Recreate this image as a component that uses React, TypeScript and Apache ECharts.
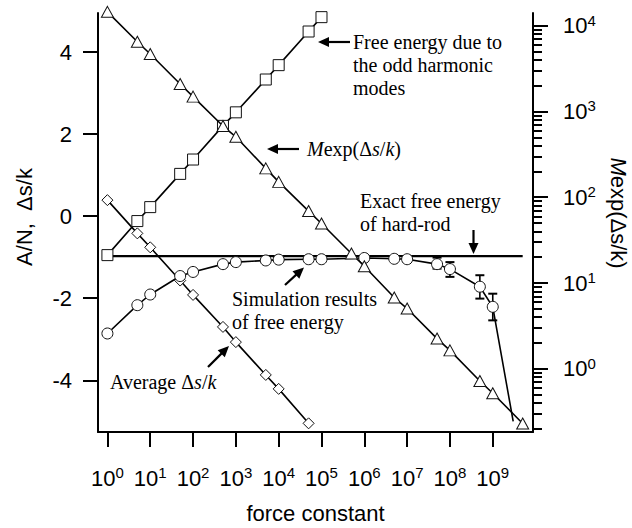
import React, { useEffect, useRef } from "react";
import * as echarts from "echarts";

// ---------------- data ----------------
const forceConstants = [1, 5, 10, 50, 100, 500, 1e3, 5e3, 1e4, 5e4, 1e5, 5e5, 1e6, 5e6, 1e7, 5e7, 1e8, 5e8, 1e9, 5e9];
// M exp(Δs/k) (right, log axis)
const mExpValues = [14500, 6500, 4680, 2090, 1490, 676, 507, 217, 151, 69, 49.4, 22.1, 15.7, 6.78, 5.04, 2.25, 1.64, 0.72, 0.518, 0.23];
// Free energy due to the odd harmonic modes (first 11 force constants)
const oddModeEnergy = [-0.95, -0.12, 0.22, 1.03, 1.38, 2.2, 2.53, 3.33, 3.68, 4.5, 4.85];
// Average Δs/k (first 10 force constants)
const averageDeltaS = [0.39, -0.42, -0.76, -1.57, -1.92, -2.7, -3.07, -3.87, -4.21, -5.05];
// Simulation results of free energy
const simForce = [1, 5, 10, 50, 100, 500, 1e3, 5e3, 1e4, 5e4, 1e5, 1e6, 5e6, 1e7, 5e7, 1e8, 5e8, 1e9, 3e9];
const simEnergy = [-2.86, -2.17, -1.91, -1.46, -1.36, -1.17, -1.12, -1.08, -1.06, -1.05, -1.05, -1.02, -1.04, -1.05, -1.17, -1.29, -1.72, -2.21, -5.0];
// error bars of the simulation results
const errForce = [5e7, 1e8, 5e8, 1e9];
const errLow = [-1.28, -1.48, -2.01, -2.54];
const errHigh = [-1.01, -1.12, -1.44, -1.89];
// exact free energy of the hard rod
const hardRodEnergy = -0.975;
const hardRodSpan = [1, 5e9];
// ticks
const xTickExponents = [0, 1, 2, 3, 4, 5, 6, 7, 8, 9];
const leftTicks = [-4, -2, 0, 2, 4];
const rightTickExponents = [0, 1, 2, 3, 4];

const SANS = "Liberation Sans, Arial, sans-serif";
const SERIF = "Liberation Serif, Times New Roman, serif";

function arrow(x1: number, y1: number, x2: number, y2: number) {
  const dx = x2 - x1, dy = y2 - y1;
  const len = Math.hypot(dx, dy);
  const ux = dx / len, uy = dy / len;
  const hl = 11, hw = 5;
  const bx = x2 - ux * hl, by = y2 - uy * hl;
  const px = -uy, py = ux;
  return [
    { type: "line", z: 20, shape: { x1, y1, x2: bx + ux * 2, y2: by + uy * 2 }, style: { stroke: "#000", lineWidth: 2.2 } },
    {
      type: "polygon", z: 20,
      shape: { points: [[x2, y2], [bx + px * hw, by + py * hw], [bx - px * hw, by - py * hw]] },
      style: { fill: "#000" },
    },
  ];
}

function serifText(x: number, y: number, text: string, rich?: boolean) {
  return {
    type: "text", z: 20, x, y,
    style: {
      text,
      fill: "#000",
      fontFamily: SERIF,
      fontSize: 20,
      align: "left",
      verticalAlign: "middle",
      rich: rich
        ? {
            n: { fontFamily: SERIF, fontSize: 20, fill: "#000" },
            i: { fontFamily: SERIF, fontSize: 20, fontStyle: "italic", fill: "#000" },
          }
        : undefined,
    },
  };
}

export default function App() {
  const ref = useRef<HTMLDivElement>(null);
  useEffect(() => {
    document.body.style.margin = "0";
    if (!ref.current) return;
    const chart = echarts.init(ref.current, null, { renderer: "svg" });
    const lx = (f: number) => Math.log10(f);

    const yMinLog = -0.737, yMaxLog = 4.148;
    const minorTicks: number[] = [];
    for (let n = -1; n <= 4; n++) {
      for (let k = 2; k <= 9; k++) {
        const v = n + Math.log10(k);
        if (v >= yMinLog && v <= yMaxLog) minorTicks.push(v);
      }
    }
    const supRich = {
      b: { fontFamily: SANS, fontSize: 22, lineHeight: 26, color: "#000" },
      s: { fontFamily: SANS, fontSize: 15, lineHeight: 15, verticalAlign: "top", color: "#000" },
    };
    const symStyle = { color: "#fff", borderColor: "#111", borderWidth: 1 };
    const lineStyle = { color: "#000", width: 1.6 };

    const option: any = {
      animation: false,
      grid: { left: 98, right: 99, top: 13, bottom: 96 },
      xAxis: {
        type: "value",
        min: -0.22,
        max: 9.94,
        splitLine: { show: false },
        axisLine: { show: true, onZero: false, lineStyle: { color: "#000", width: 2 } },
        axisTick: { show: true, length: 15, customValues: xTickExponents, lineStyle: { color: "#000", width: 2 } },
        axisLabel: {
          customValues: xTickExponents,
          margin: 33,
          formatter: (v: number) => `{b|10}{s|${v}}`,
          rich: supRich,
        },
      },
      yAxis: [
        {
          type: "value",
          position: "left",
          min: -5.261,
          max: 4.951,
          splitLine: { show: false },
          axisLine: { show: true, onZero: false, lineStyle: { color: "#000", width: 2 } },
          axisTick: { show: true, length: 15, customValues: leftTicks, lineStyle: { color: "#000", width: 2 } },
          axisLabel: {
            customValues: leftTicks,
            margin: 26,
            fontFamily: SANS,
            fontSize: 22,
            color: "#000",
            formatter: (v: number) => String(v),
          },
        },
        {
          type: "value",
          position: "right",
          min: yMinLog,
          max: yMaxLog,
          splitLine: { show: false },
          axisLine: { show: true, onZero: false, lineStyle: { color: "#000", width: 2 } },
          axisTick: { show: true, length: 15, customValues: rightTickExponents, lineStyle: { color: "#000", width: 2 } },
          axisLabel: {
            customValues: rightTickExponents,
            margin: 30,
            formatter: (v: number) => `{b|10}{s|${v}}`,
            rich: supRich,
          },
        },
        {
          type: "value",
          position: "right",
          min: yMinLog,
          max: yMaxLog,
          splitLine: { show: false },
          axisLine: { show: false, onZero: false },
          axisTick: { show: true, length: 9, customValues: minorTicks, lineStyle: { color: "#000", width: 2 } },
          axisLabel: { show: false },
        },
      ],
      series: [
        {
          type: "line",
          name: "Exact free energy of hard-rod",
          data: hardRodSpan.map((f) => [lx(f), hardRodEnergy]),
          symbol: "none",
          lineStyle: { color: "#000", width: 2.4 },
          z: 2,
          silent: true,
        },
        {
          type: "custom",
          name: "error",
          xAxisIndex: 0,
          yAxisIndex: 0,
          data: errForce.map((f, i) => [lx(f), errLow[i], errHigh[i]]),
          encode: { x: 0, y: [1, 2] },
          clip: false,
          z: 3,
          renderItem: (params: any, api: any) => {
            const x = api.value(0);
            const top = api.coord([x, api.value(2)]);
            const bot = api.coord([x, api.value(1)]);
            const w = 4.5;
            const st = { stroke: "#000", lineWidth: 1.6 };
            return {
              type: "group",
              children: [
                { type: "line", shape: { x1: top[0], y1: top[1], x2: bot[0], y2: bot[1] }, style: st },
                { type: "line", shape: { x1: top[0] - w, y1: top[1], x2: top[0] + w, y2: top[1] }, style: { stroke: "#000", lineWidth: 2 } },
                { type: "line", shape: { x1: bot[0] - w, y1: bot[1], x2: bot[0] + w, y2: bot[1] }, style: { stroke: "#000", lineWidth: 2 } },
              ],
            };
          },
        },
        {
          type: "line",
          name: "Average Δs/k",
          data: averageDeltaS.map((v, i) => [lx(forceConstants[i]), v]),
          symbol: "diamond",
          symbolSize: [11, 11],
          itemStyle: symStyle,
          lineStyle,
          z: 4,
          clip: false,
        },
        {
          type: "line",
          name: "Free energy due to the odd harmonic modes",
          data: oddModeEnergy.map((v, i) => [lx(forceConstants[i]), v]),
          symbol: "rect",
          symbolSize: 11,
          itemStyle: symStyle,
          lineStyle,
          z: 4,
          clip: false,
        },
        {
          type: "line",
          name: "Simulation results of free energy",
          data: simEnergy.map((v, i) =>
            i === simEnergy.length - 1
              ? { value: [lx(simForce[i]), v], symbol: "none" }
              : [lx(simForce[i]), v]
          ),
          symbol: "circle",
          symbolSize: 11,
          itemStyle: symStyle,
          lineStyle,
          z: 5,
          clip: false,
        },
        {
          type: "line",
          name: "Mexp(Δs/k)",
          yAxisIndex: 1,
          data: mExpValues.map((v, i) => [lx(forceConstants[i]), Math.log10(v)]),
          symbol: "triangle",
          symbolSize: [12, 11],
          itemStyle: symStyle,
          lineStyle,
          z: 6,
          clip: false,
        },
      ],
      graphic: [
        // axis titles
        {
          type: "text", x: 315.5, y: 513,
          style: { text: "force constant", fontFamily: SANS, fontSize: 22, fill: "#000", align: "center", verticalAlign: "middle" },
        },
        {
          type: "text", x: 24, y: 217, rotation: Math.PI / 2,
          style: { text: "A/N,  Δs/k", fontFamily: SANS, fontSize: 22, fill: "#000", align: "center", verticalAlign: "middle" },
        },
        {
          type: "text", x: 618, y: 213, rotation: -Math.PI / 2,
          style: {
            text: "{i|M}{n|exp(Δs/k)}",
            fontFamily: SANS, fontSize: 22, fill: "#000", align: "center", verticalAlign: "middle",
            rich: {
              n: { fontFamily: SANS, fontSize: 22, fill: "#000" },
              i: { fontFamily: SANS, fontSize: 22, fontStyle: "italic", fill: "#000" },
            },
          },
        },
        // annotations
        serifText(353, 42, "Free energy due to"),
        serifText(353, 65, "the odd harmonic"),
        serifText(353, 88, "modes"),
        ...arrow(350, 42, 318, 42),
        serifText(307, 149, "{i|M}{n|exp(Δ}{i|s}{n|/}{i|k}{n|)}", true),
        ...arrow(299, 149, 267, 149),
        serifText(360, 201, "Exact free energy"),
        serifText(360, 223.5, "of hard-rod"),
        ...arrow(473.5, 230, 473.5, 254),
        serifText(232, 298.5, "Simulation results"),
        serifText(232, 322, "of free energy"),
        ...arrow(285, 285, 304, 267.5),
        serifText(110, 382, "{n|Average Δ}{i|s}{n|/}{i|k}", true),
        ...arrow(208, 367, 229, 346),
      ],
    };
    chart.setOption(option);
    return () => chart.dispose();
  }, []);
  return <div ref={ref} style={{ width: 632, height: 528 }} />;
}
